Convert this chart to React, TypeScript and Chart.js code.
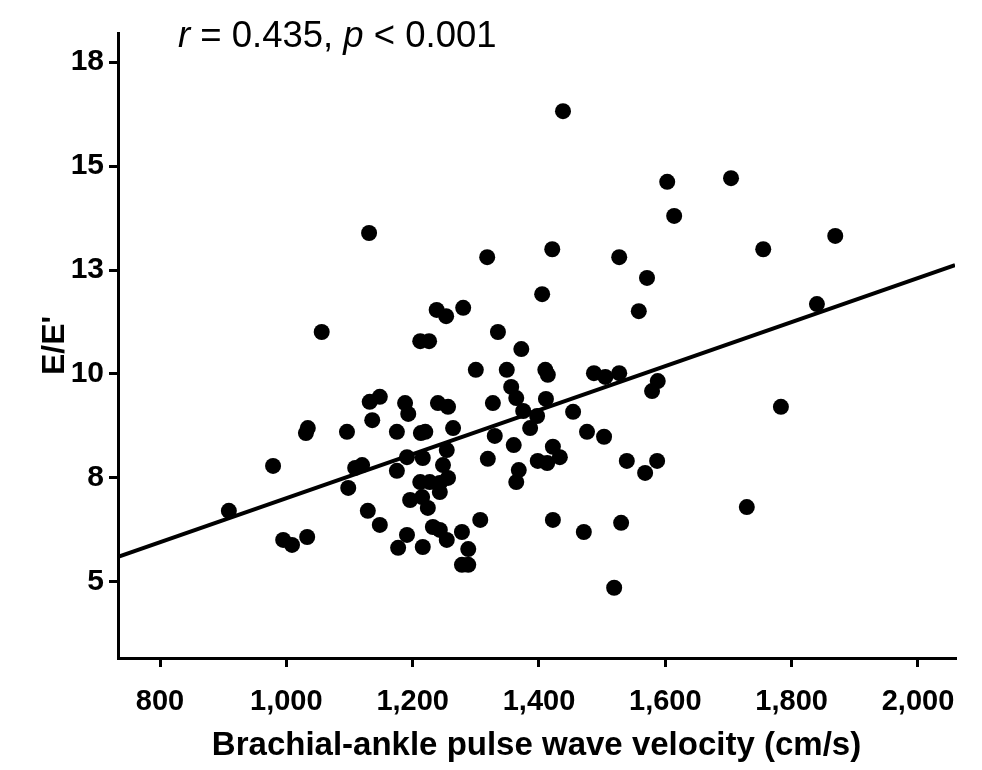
import React, { useEffect, useRef } from "react";
import { Chart, registerables } from "chart.js";

Chart.register(...registerables);

// baPWV (cm/s) of each subject
const baPWV = [
  909, 979, 995, 1009, 1033, 1031, 1034, 1056, 1096, 1109, 1120, 1098, 1129, 1148, 1132, 1148, 1136, 1131,
  1175, 1175, 1177, 1188, 1193, 1191, 1191, 1212, 1226, 1213, 1220, 1216, 1212, 1227, 1243, 1256, 1243, 1196,
  1215, 1224, 1216, 1232, 1243, 1254, 1238, 1253, 1280, 1240, 1256, 1264, 1254, 1248, 1278, 1288, 1278, 1288,
  1300, 1318, 1319, 1307, 1327, 1330, 1335, 1349, 1356, 1364, 1360, 1368, 1364, 1372, 1375, 1397, 1386, 1398,
  1413, 1405, 1410, 1414, 1411, 1422, 1433, 1422, 1421, 1438,
  1454, 1476, 1503, 1487, 1505, 1527, 1471, 1530, 1519, 1527, 1539, 1587, 1568, 1588, 1579, 1571, 1558, 1603,
  1614, 1704, 1729, 1755, 1783, 1840, 1869,
];

// E/E' of each subject
const eOverEPrime = [
  6.71, 7.79, 6.01, 5.89, 6.08, 8.58, 8.7, 11.01, 8.61, 7.74, 7.81, 7.26, 6.71, 6.37, 9.33, 9.45, 8.89, 13.39,
  8.61, 7.67, 5.82, 9.3, 9.04, 8.0, 6.13, 10.79, 10.79, 8.58, 8.61, 7.98, 7.4, 7.4, 7.38, 7.5, 7.16, 6.97,
  7.04, 6.78, 5.84, 6.32, 6.25, 6.01, 11.54, 11.39, 11.59, 9.3, 9.21, 8.7, 8.17, 7.81, 6.2, 5.79, 5.41, 5.41,
  10.1, 12.81, 7.96, 6.49, 9.3, 8.51, 11.01, 10.1, 9.69, 9.42, 8.29, 7.69, 7.4, 10.6, 9.11, 8.99, 8.7, 7.91,
  7.86, 11.92, 10.1, 9.98, 9.4, 8.25, 8.0, 6.49, 13.0, 16.32,
  9.09, 8.61, 8.49, 10.02, 9.93, 10.02, 6.2, 6.42, 4.86, 12.81, 7.91, 7.91, 7.62, 9.83, 9.59, 12.31, 11.51, 14.62,
  13.8, 14.71, 6.8, 13.0, 9.21, 11.68, 13.32,
];

// fitted regression line end points
const fitX = [733.5, 2058.6];
const fitY = [5.6, 12.62];

const xRange = [733.5, 2058.6];
const yRange = [3.17, 18.2];

const xTickValues = [800, 1000, 1200, 1400, 1600, 1800, 2000];
const xTickLabels = ["800", "1,000", "1,200", "1,400", "1,600", "1,800", "2,000"];
const yTickValues = [5, 7.5, 10, 12.5, 15, 17.5];
const yTickLabels = ["5", "8", "10", "13", "15", "18"];

const xTitle = "Brachial-ankle pulse wave velocity (cm/s)";
const yTitle = "E/E'";
const statParts: { text: string; italic: boolean }[] = [
  { text: "r", italic: true },
  { text: " = 0.435, ", italic: false },
  { text: "p", italic: true },
  { text: " < 0.001", italic: false },
];

const FONT = "'Liberation Sans', Arial, Helvetica, sans-serif";

const statPlugin = {
  id: "statText",
  afterDraw(chart: any) {
    const ctx = chart.ctx as CanvasRenderingContext2D;
    ctx.save();
    ctx.fillStyle = "#000";
    ctx.textBaseline = "alphabetic";
    ctx.textAlign = "left";
    let x = 178;
    const y = 47;
    for (const part of statParts) {
      ctx.font = `${part.italic ? "italic " : ""}36.5px ${FONT}`;
      ctx.fillText(part.text, x, y);
      x += ctx.measureText(part.text).width;
    }
    ctx.restore();
  },
};

export default function App() {
  const ref = useRef<HTMLCanvasElement | null>(null);

  useEffect(() => {
    if (!ref.current) return;
    const points = baPWV.map((v, i) => ({ x: v, y: eOverEPrime[i] }));
    const fit = fitX.map((v, i) => ({ x: v, y: fitY[i] }));
    const chart = new Chart(ref.current, {
      type: "scatter",
      data: {
        datasets: [
          {
            label: "subjects",
            data: points,
            pointRadius: 8,
            pointHoverRadius: 8,
            backgroundColor: "#000",
            borderWidth: 0,
          },
          {
            label: "fit",
            data: fit,
            showLine: true,
            pointRadius: 0,
            borderColor: "#000",
            borderWidth: 4,
            backgroundColor: "#000",
          } as any,
        ],
      },
      options: {
        animation: false,
        responsive: false,
        devicePixelRatio: 1,
        events: [],
        layout: { padding: { top: 33, right: 27, left: 0, bottom: 0 } },
        plugins: { legend: { display: false }, tooltip: { enabled: false } },
        scales: {
          x: {
            type: "linear",
            min: xRange[0],
            max: xRange[1],
            afterBuildTicks: (s: any) => {
              s.ticks = xTickValues.map((v) => ({ value: v }));
            },
            afterFit: (s: any) => {
              s.height = 112;
              s.paddingLeft = 0;
              s.paddingRight = 0;
            },
            grid: {
              display: true,
              drawOnChartArea: false,
              drawTicks: true,
              tickLength: 9,
              color: "#000",
              lineWidth: 3,
            },
            border: { display: true, color: "#000", width: 3 },
            ticks: {
              color: "#000",
              font: { family: FONT, size: 29, weight: "bold" },
              padding: 18,
              maxRotation: 0,
              autoSkip: false,
              callback: (_v: any, i: number) => xTickLabels[i],
            },
            title: {
              display: true,
              text: xTitle,
              color: "#000",
              font: { family: FONT, size: 33, weight: "bold" },
              padding: { top: 0, bottom: 4 },
            },
          },
          y: {
            type: "linear",
            min: yRange[0],
            max: yRange[1],
            afterBuildTicks: (s: any) => {
              s.ticks = yTickValues.map((v) => ({ value: v }));
            },
            afterFit: (s: any) => {
              s.width = 118;
              s.paddingTop = 0;
              s.paddingBottom = 0;
            },
            grid: {
              display: true,
              drawOnChartArea: false,
              drawTicks: true,
              tickLength: 9,
              color: "#000",
              lineWidth: 3,
            },
            border: { display: true, color: "#000", width: 3 },
            ticks: {
              color: "#000",
              font: { family: FONT, size: 30, weight: "bold" },
              padding: 5,
              autoSkip: false,
              callback: (_v: any, i: number) => yTickLabels[i],
            },
            title: {
              display: true,
              text: yTitle,
              color: "#000",
              font: { family: FONT, size: 32, weight: "bold" },
              padding: { top: 36, bottom: 0 },
            },
          },
        },
      },
      plugins: [statPlugin],
    } as any);
    return () => chart.destroy();
  }, []);

  return (
    <div style={{ position: "absolute", left: 0, top: 0, width: 982, height: 770, background: "#fff" }}>
      <canvas ref={ref} width={982} height={770} style={{ display: "block", width: 982, height: 770 }} />
    </div>
  );
}
